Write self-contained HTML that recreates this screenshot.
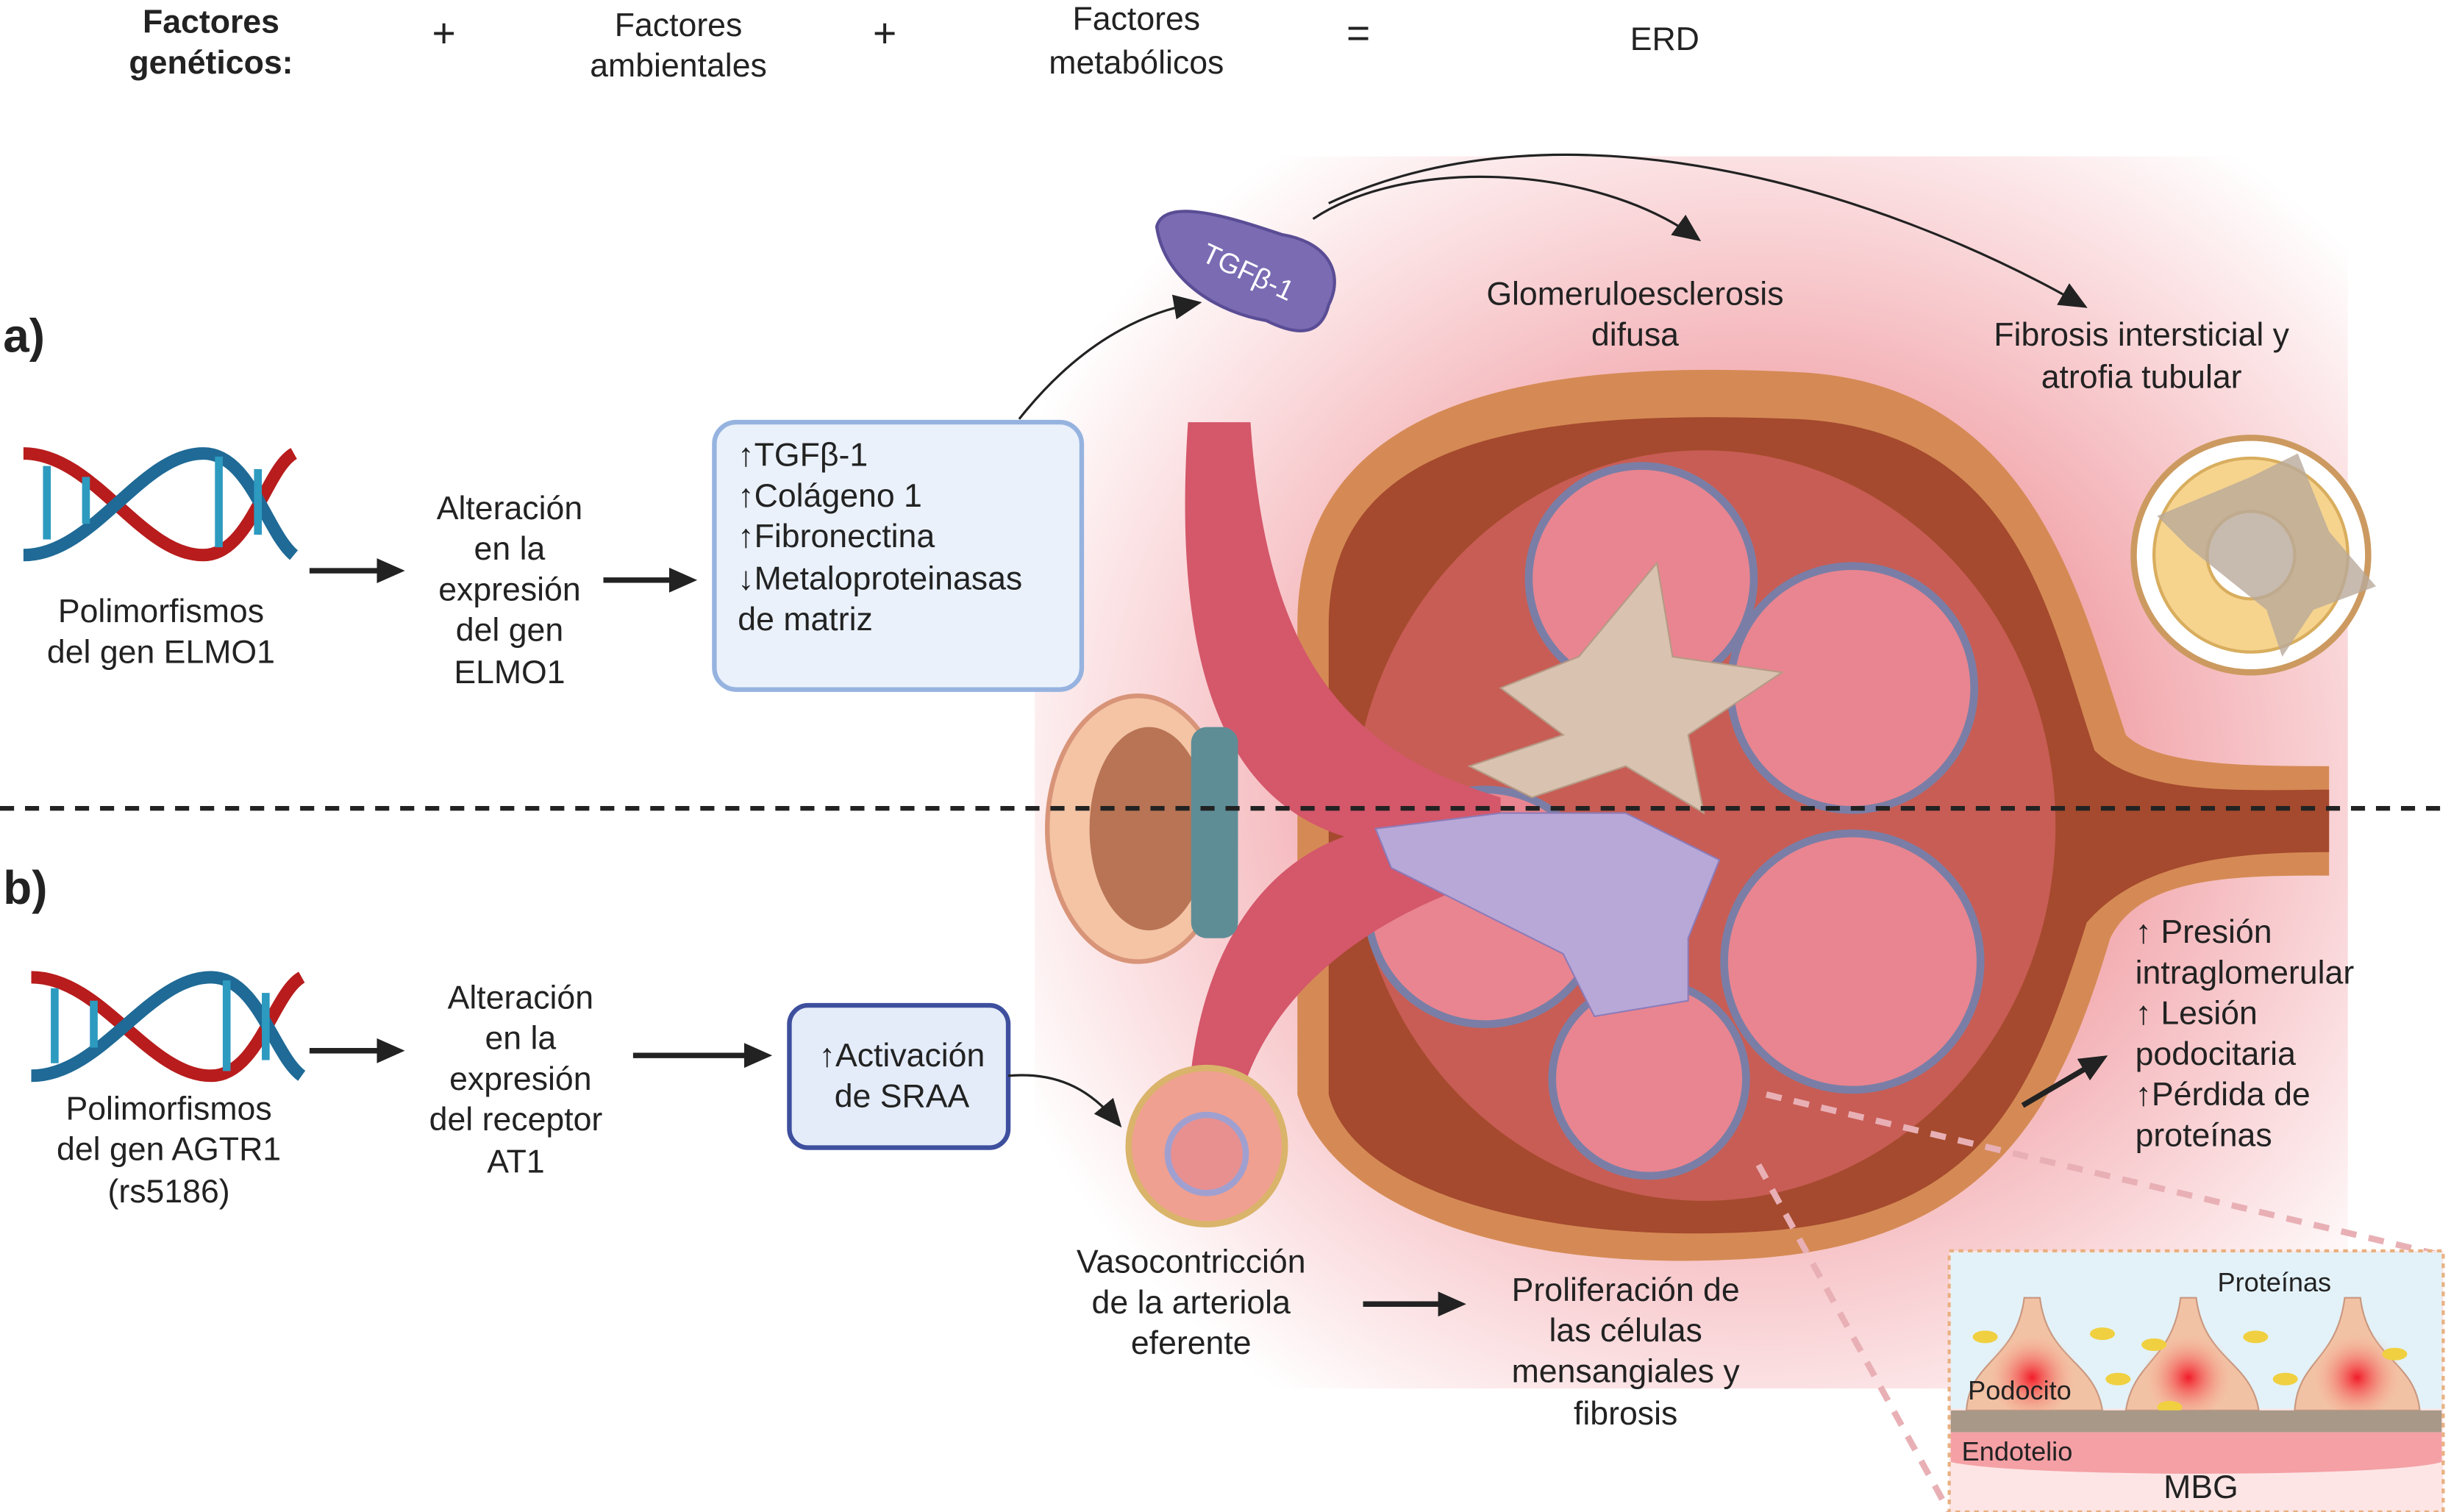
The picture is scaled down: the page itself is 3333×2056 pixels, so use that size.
<!DOCTYPE html>
<html><head><meta charset="utf-8"><style>
html,body{margin:0;padding:0;background:#fff;}
svg{display:block;}
text{font-family:"Liberation Sans",sans-serif;fill:#222;}
</style></head><body>
<svg width="3333" height="2056" viewBox="0 0 1568 967" preserveAspectRatio="none" xmlns="http://www.w3.org/2000/svg">
<defs>
<radialGradient id="glow" cx="0.55" cy="0.5" r="0.62">
<stop offset="0" stop-color="#e8707a"/><stop offset="0.45" stop-color="#f2a9ae"/><stop offset="0.8" stop-color="#fbe0e2"/><stop offset="1" stop-color="#ffffff"/>
</radialGradient>
<radialGradient id="pod" cx="0.5" cy="0.6" r="0.5"><stop offset="0" stop-color="#f21c2a"/><stop offset="1" stop-color="#f7c9a8" stop-opacity="0"/></radialGradient>
<marker id="ah2" markerWidth="18" markerHeight="16" refX="14" refY="8" orient="auto" markerUnits="userSpaceOnUse"><path d="M0,0 L18,8 L0,16 z" fill="#222"/></marker>
</defs>
<rect x="662" y="100" width="840" height="788" fill="url(#glow)"/>
<g font-size="21">
<text x="135" y="21" text-anchor="middle" font-weight="bold">Factores</text>
<text x="135" y="47" text-anchor="middle" font-weight="bold">genéticos:</text>
<text x="284" y="30" text-anchor="middle" font-size="26">+</text>
<text x="434" y="23" text-anchor="middle">Factores</text>
<text x="434" y="49" text-anchor="middle">ambientales</text>
<text x="566" y="30" text-anchor="middle" font-size="26">+</text>
<text x="727" y="19" text-anchor="middle">Factores</text>
<text x="727" y="47" text-anchor="middle">metabólicos</text>
<text x="869" y="30" text-anchor="middle" font-size="26">=</text>
<text x="1065" y="32" text-anchor="middle">ERD</text>
</g>
<text x="2" y="225" font-size="30" font-weight="bold">a)</text>
<text x="2" y="578" font-size="30" font-weight="bold">b)</text>
<path d="M830,400 C830,250 990,230 1150,238 C1300,245 1330,380 1360,470 C1380,490 1440,490 1490,490 L1490,560 C1430,560 1370,560 1350,600 C1320,700 1280,795 1120,805 C960,815 850,770 830,700 Z" fill="#d58a55"/>
<path d="M850,400 C850,275 990,262 1150,268 C1290,275 1310,390 1340,480 C1370,510 1440,505 1490,505 L1490,545 C1430,545 1370,550 1335,590 C1300,700 1270,780 1120,788 C980,795 865,760 850,700 Z" fill="#a54a2e"/>
<ellipse cx="1090" cy="528" rx="225" ry="240" fill="#c85d55"/>
<g fill="#e98590" stroke="#7a7ea6" stroke-width="5">
<circle cx="1050" cy="370" r="72"/><circle cx="1185" cy="440" r="78"/>
<circle cx="1185" cy="615" r="82"/><circle cx="1055" cy="690" r="62"/>
<circle cx="950" cy="580" r="75"/>
</g>
<path d="M760,270 L800,270 C810,420 860,480 960,510 L960,560 C860,590 800,650 790,720 L760,720 C760,640 790,560 860,535 C780,510 750,420 760,270Z" fill="#d4576a"/>
<path d="M960,440 L1010,420 L1060,360 L1070,420 L1140,430 L1080,470 L1090,520 L1040,490 L980,510 L940,490 L1000,470Z" fill="#d9c2b0" stroke="#b59a85"/>
<path d="M880,530 L960,520 L1040,520 L1100,550 L1080,600 L1080,640 L1020,650 L1000,610 L940,580 L890,555Z" fill="#b8a8d8" stroke="#8c7bb8"/>
<ellipse cx="728" cy="530" rx="58" ry="85" fill="#f4c4a4" stroke="#d89478" stroke-width="3"/>
<ellipse cx="735" cy="530" rx="38" ry="65" fill="#b87455"/>
<rect x="762" y="465" width="30" height="135" rx="10" fill="#5e8d96"/>
<path d="M740,145 C745,125 790,140 820,150 C850,155 860,175 850,195 C845,215 830,215 810,205 C780,200 745,180 740,145Z" fill="#7a6bb3" stroke="#5a4d95" stroke-width="2"/>
<text x="798" y="180" font-size="18" transform="rotate(25 798 175)" text-anchor="middle" style="fill:#fff">TGFβ-1</text>
<circle cx="1440" cy="355" r="75" fill="#fff" stroke="#cc9a60" stroke-width="4"/>
<circle cx="1440" cy="355" r="62" fill="#f6d48e" stroke="#d8ad5e" stroke-width="2"/>
<circle cx="1440" cy="355" r="28" fill="#fff" stroke="#d8ad5e" stroke-width="2"/>
<path d="M1380,330 L1440,305 L1470,290 L1490,340 L1520,375 L1480,390 L1460,420 L1450,390 L1400,350Z" fill="#b9a99a" opacity="0.8"/>
<circle cx="772" cy="733" r="50" fill="#f0a090" stroke="#d9b46a" stroke-width="4"/>
<circle cx="772" cy="738" r="25" fill="#e89090" stroke="#a0a0d0" stroke-width="4"/>
<g fill="none" stroke-width="8">
<path d="M15,290 C60,290 90,355 130,355 C160,355 170,300 188,290" stroke="#b81c1c"/>
<path d="M15,355 C60,355 90,290 130,290 C160,290 170,340 188,355" stroke="#1f6a96"/>
<path d="M20,625 C65,625 95,688 135,688 C165,688 175,635 193,625" stroke="#b81c1c"/>
<path d="M20,688 C65,688 95,625 135,625 C165,625 175,675 193,688" stroke="#1f6a96"/>
</g>
<g stroke="#2d9ac0" stroke-width="5"><line x1="30" y1="298" x2="30" y2="345"/><line x1="55" y1="305" x2="55" y2="335"/><line x1="140" y1="292" x2="140" y2="350"/><line x1="165" y1="300" x2="165" y2="342"/>
<line x1="35" y1="632" x2="35" y2="680"/><line x1="60" y1="640" x2="60" y2="670"/><line x1="145" y1="627" x2="145" y2="685"/><line x1="170" y1="635" x2="170" y2="678"/></g>
<g font-size="21" text-anchor="middle">
<text x="103" y="398">Polimorfismos</text><text x="103" y="424">del gen ELMO1</text>
<text x="326" y="332">Alteración</text><text x="326" y="358">en la</text><text x="326" y="384">expresión</text><text x="326" y="410">del gen</text><text x="326" y="437">ELMO1</text>
<text x="108" y="716">Polimorfismos</text><text x="108" y="742">del gen AGTR1</text><text x="108" y="769">(rs5186)</text>
<text x="333" y="645">Alteración</text><text x="333" y="671">en la</text><text x="333" y="697">expresión</text><text x="330" y="723">del receptor</text><text x="330" y="750">AT1</text>
<text x="1046" y="195">Glomeruloesclerosis</text><text x="1046" y="221">difusa</text>
<text x="1370" y="221">Fibrosis intersticial y</text><text x="1370" y="248">atrofia tubular</text>
<text x="762" y="814">Vasocontricción</text><text x="762" y="840">de la arteriola</text><text x="762" y="866">eferente</text>
<text x="1040" y="832">Proliferación de</text><text x="1040" y="858">las células</text><text x="1040" y="884">mensangiales y</text><text x="1040" y="911">fibrosis</text>
</g>
<g font-size="21">
<text x="1366" y="603">↑ Presión</text><text x="1366" y="629">intraglomerular</text><text x="1366" y="655">↑ Lesión</text><text x="1366" y="681">podocitaria</text><text x="1366" y="707">↑Pérdida de</text><text x="1366" y="733">proteínas</text>
</g>
<rect x="457" y="270" width="235" height="171" rx="14" fill="#eaf1fb" stroke="#96b3e0" stroke-width="3"/>
<g font-size="21"><text x="472" y="298">↑TGFβ-1</text><text x="472" y="324">↑Colágeno 1</text><text x="472" y="350">↑Fibronectina</text><text x="472" y="377">↓Metaloproteinasas</text><text x="472" y="403">de matriz</text></g>
<rect x="505" y="643" width="140" height="91" rx="12" fill="#e4ecfa" stroke="#3e4f9e" stroke-width="3"/>
<g font-size="21" text-anchor="middle"><text x="577" y="682">↑Activación</text><text x="577" y="708">de SRAA</text></g>
<g stroke="#222" stroke-width="3.5" fill="none">
<line x1="198" y1="365" x2="255" y2="365" marker-end="url(#ah2)"/>
<line x1="386" y1="371" x2="442" y2="371" marker-end="url(#ah2)"/>
<line x1="198" y1="672" x2="255" y2="672" marker-end="url(#ah2)"/>
<line x1="405" y1="675" x2="490" y2="675" marker-end="url(#ah2)"/>
<line x1="872" y1="834" x2="934" y2="834" marker-end="url(#ah2)"/>
<line x1="1294" y1="707" x2="1345" y2="677" marker-end="url(#ah2)"/>
</g>
<g stroke="#222" stroke-width="1.5" fill="none">
<path d="M652,268 C690,220 730,200 765,194" marker-end="url(#ah2)"/>
<path d="M840,140 C900,100 1020,105 1085,152" marker-end="url(#ah2)"/>
<path d="M850,130 C1000,60 1200,120 1332,195" marker-end="url(#ah2)"/>
<path d="M645,688 C680,685 700,700 715,718" marker-end="url(#ah2)"/>
</g>
<line x1="0" y1="517" x2="1568" y2="517" stroke="#222" stroke-width="3" stroke-dasharray="9,7"/>
<g stroke="#e8b0b5" stroke-width="4" stroke-dasharray="10,8" fill="none">
<line x1="1125" y1="745" x2="1247" y2="967"/><line x1="1130" y1="700" x2="1563" y2="803"/>
</g>
<rect x="1247" y="800" width="316" height="167" fill="#fde5e5" stroke="#e8b080" stroke-dasharray="3,3" stroke-width="2"/>
<rect x="1248" y="801" width="314" height="100" fill="#e3f2f8"/>
<g fill="#f2c2a5" stroke="#c99880"><path d="M1258,902 C1260,870 1290,870 1295,830 L1305,830 C1310,870 1340,870 1345,902Z"/><path d="M1360,902 C1365,870 1390,870 1395,830 L1405,830 C1410,870 1440,870 1445,902Z"/><path d="M1468,902 C1470,870 1495,870 1500,830 L1510,830 C1515,870 1545,870 1548,902Z"/></g>
<circle cx="1300" cy="875" r="30" fill="url(#pod)"/><circle cx="1400" cy="875" r="30" fill="url(#pod)"/><circle cx="1508" cy="875" r="30" fill="url(#pod)"/>
<g fill="#f0d040"><ellipse cx="1270" cy="855" rx="8" ry="4"/><ellipse cx="1345" cy="853" rx="8" ry="4"/><ellipse cx="1378" cy="860" rx="8" ry="4"/><ellipse cx="1443" cy="855" rx="8" ry="4"/><ellipse cx="1462" cy="882" rx="8" ry="4"/><ellipse cx="1355" cy="882" rx="8" ry="4"/><ellipse cx="1532" cy="866" rx="8" ry="4"/><ellipse cx="1388" cy="900" rx="8" ry="4"/></g>
<rect x="1248" y="902" width="314" height="14" fill="#a89888"/>
<path d="M1248,916 H1562 V935 C1530,945 1290,945 1248,935Z" fill="#f4a0a5"/>
<text x="1455" y="826" font-size="17" text-anchor="middle">Proteínas</text>
<text x="1259" y="895" font-size="17">Podocito</text>
<text x="1255" y="934" font-size="17">Endotelio</text>
<text x="1408" y="958" font-size="21" text-anchor="middle">MBG</text>
</svg>
</body></html>
